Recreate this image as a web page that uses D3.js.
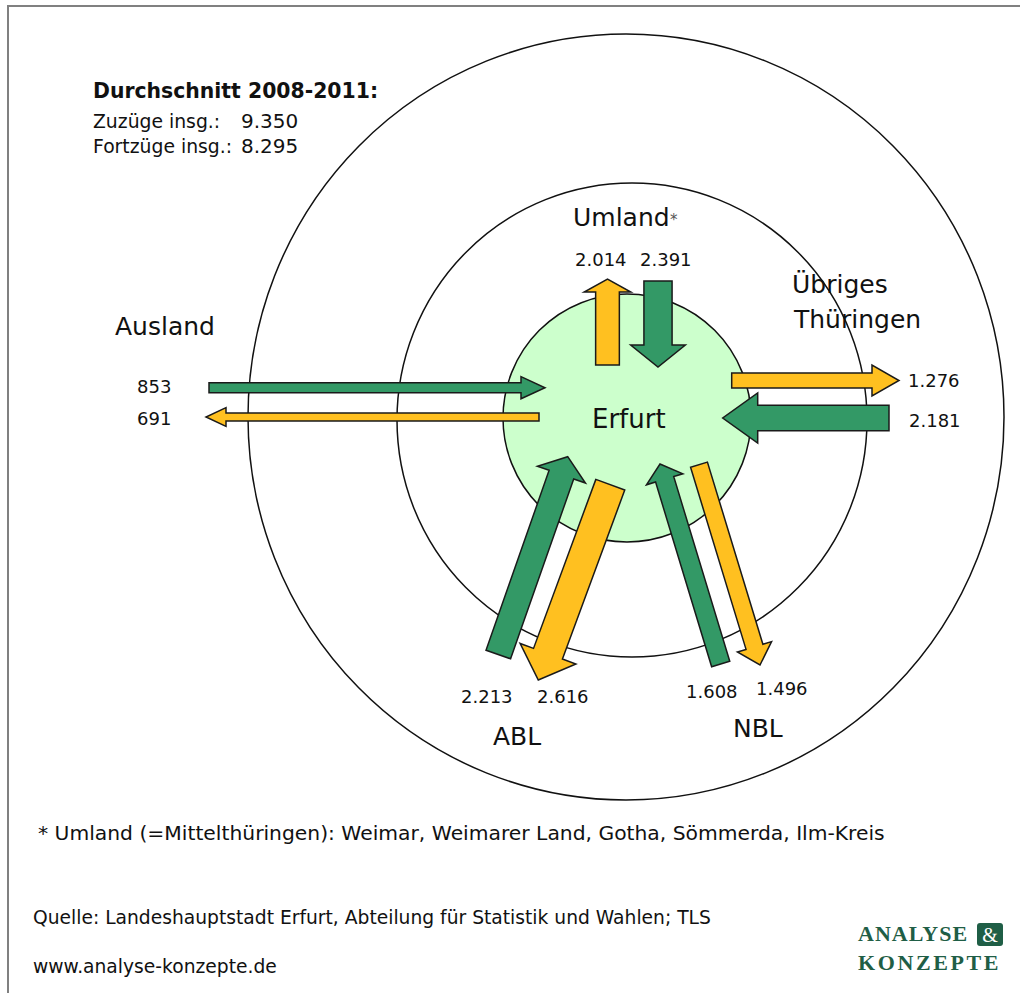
<!DOCTYPE html>
<html>
<head>
<meta charset="utf-8">
<script src="https://cdn.jsdelivr.net/npm/d3@7"></script>
<style>
  body { margin: 0; background: #fff; }
  svg { display: block; }
</style>
</head>
<body>
<div id="viz"></div>
<script>
// DATA
// ---------------------------------------------------------------------------------------------
const regions = ["Umland", "Übriges Thüringen", "Ausland", "ABL", "NBL"];
const zuzuege = [2391, 2181, 853, 2213, 1608];    // into Erfurt (green)
const fortzuege = [2014, 1276, 691, 2616, 1496];  // out of Erfurt (orange)
const summaryLabels = ["Zuzüge insg.:", "Fortzüge insg.:"];
const summaryValues = [9350, 8295];

// LAYOUT (relative to circle centre)
// ---------------------------------------------------------------------------------------------
const W = 1020, H = 993;
const cx = 628, cy = 418;
const inLayout = [
  { tail: [30, -137], tip: [30, -51], head: 22, label: [640, 266] },
  { tail: [261, 0], tip: [94.7, 0], head: 35, label: [909, 427] },
  { tail: [-419, -30.3], tip: [-83, -30.3], head: 24, label: [137, 393] },
  { tail: [-129.7, 236.5], tip: [-60.3, 38.7], head: 19, label: [461, 703] },
  { tail: [92.7, 246], tip: [32, 46], head: 16, label: [686, 698] }
];
const outLayout = [
  { tail: [-20.5, -53], tip: [-20.5, -139], head: 13, label: [575, 266] },
  { tail: [103.7, -37.5], tip: [271, -37.5], head: 27, label: [908, 387] },
  { tail: [-89, -1], tip: [-422, -1], head: 20, label: [137, 425] },
  { tail: [-17.7, 66.7], tip: [-89.7, 262], head: 28, label: [537, 703] },
  { tail: [71, 46.7], tip: [132, 247], head: 19, label: [756, 695] }
];

const fmt = v => d3.format(",")(v).replace(/,/g, ".");
const width = d3.scaleLinear().domain([0, 2616]).range([0, 30.8]);

const svg = d3.select("#viz").append("svg")
  .attr("width", W)
  .attr("height", H)
  .style("font-family", "'DejaVu Sans', Verdana, sans-serif");

// FRAME
svg.append("path")
  .attr("d", `M8,${H} L8,6 L${W},6`)
  .attr("fill", "none")
  .attr("stroke", "#808080")
  .attr("stroke-width", 2);

// RINGS
svg.append("ellipse")
  .attr("cx", 626).attr("cy", 417).attr("rx", 378).attr("ry", 383)
  .attr("fill", "none").attr("stroke", "#111").attr("stroke-width", 1.5);
svg.append("ellipse")
  .attr("cx", 632).attr("cy", 420).attr("rx", 235).attr("ry", 237)
  .attr("fill", "none").attr("stroke", "#111").attr("stroke-width", 1.5);
svg.append("circle")
  .attr("cx", 627).attr("cy", 418).attr("r", 124)
  .attr("fill", "#ccffcc").attr("stroke", "#111").attr("stroke-width", 1.5);

// ARROWS
// ---------------------------------------------------------------------------------------------
function arrowPoints(l, v) {
  const w = width(v), hw = 1.8 * w + 4;
  const t = [cx + l.tail[0], cy + l.tail[1]];
  const p = [cx + l.tip[0], cy + l.tip[1]];
  const len = Math.hypot(p[0] - t[0], p[1] - t[1]);
  const u = [(p[0] - t[0]) / len, (p[1] - t[1]) / len];
  const n = [-u[1], u[0]];
  const b = [p[0] - u[0] * l.head, p[1] - u[1] * l.head];
  const off = (pt, k) => [pt[0] + n[0] * k, pt[1] + n[1] * k];
  return [off(t, w / 2), off(b, w / 2), off(b, hw / 2), p, off(b, -hw / 2), off(b, -w / 2), off(t, -w / 2)];
}

const line = d3.line().curve(d3.curveLinearClosed);

svg.append("g").selectAll("path.in")
  .data(zuzuege)
  .enter()
  .append("path")
  .attr("d", (d, i) => line(arrowPoints(inLayout[i], d)))
  .attr("fill", "#339966")
  .attr("stroke", "#1a1a1a")
  .attr("stroke-width", 1.5)
  .attr("stroke-linejoin", "miter");

svg.append("g").selectAll("path.out")
  .data(fortzuege)
  .enter()
  .append("path")
  .attr("d", (d, i) => line(arrowPoints(outLayout[i], d)))
  .attr("fill", "#ffc020")
  .attr("stroke", "#1a1a1a")
  .attr("stroke-width", 1.5)
  .attr("stroke-linejoin", "miter");

// VALUE LABELS
svg.append("g").selectAll("text")
  .data(zuzuege.map((v, i) => ({ v, l: inLayout[i] })).concat(fortzuege.map((v, i) => ({ v, l: outLayout[i] }))))
  .enter()
  .append("text")
  .attr("x", d => d.l.label[0])
  .attr("y", d => d.l.label[1])
  .attr("font-size", "18px")
  .attr("fill", "#111")
  .text(d => fmt(d.v));

// REGION LABELS
// ---------------------------------------------------------------------------------------------
const regionPos = [[573, 226], [792, 293], [115, 335], [493, 745], [733, 737]];
regions.forEach((r, i) => {
  const t = svg.append("text")
    .attr("x", regionPos[i][0])
    .attr("y", regionPos[i][1])
    .attr("font-size", "25px")
    .attr("fill", "#111");
  if (r === "Übriges Thüringen") {
    t.append("tspan").text("Übriges");
    t.append("tspan").attr("x", regionPos[i][0] + 2).attr("dy", 35).text("Thüringen");
  } else {
    t.text(r);
  }
});
svg.append("text")
  .attr("x", 670).attr("y", 225)
  .attr("font-size", "15px")
  .attr("fill", "#555")
  .text("*");

svg.append("text")
  .attr("x", 592).attr("y", 428)
  .attr("font-size", "26px")
  .attr("fill", "#111")
  .text("Erfurt");

// SUMMARY
// ---------------------------------------------------------------------------------------------
svg.append("text")
  .attr("x", 93).attr("y", 98)
  .attr("font-size", "20.4px")
  .attr("font-weight", "bold")
  .attr("fill", "#111")
  .text("Durchschnitt 2008-2011:");

summaryLabels.forEach((s, i) => {
  svg.append("text")
    .attr("x", 93).attr("y", 128 + i * 25)
    .attr("font-size", "18.8px")
    .attr("fill", "#111")
    .text(s);
  svg.append("text")
    .attr("x", 241).attr("y", 128 + i * 25)
    .attr("font-size", "20px")
    .attr("fill", "#111")
    .text(fmt(summaryValues[i]));
});

// FOOTNOTES
// ---------------------------------------------------------------------------------------------
const note = svg.append("g").attr("fill", "#111");
note.append("text")
  .attr("x", 38).attr("y", 840)
  .attr("font-size", "20.3px")
  .text("* Umland (=Mittelthüringen): Weimar, Weimarer Land, Gotha, Sömmerda, Ilm-Kreis");
note.append("text")
  .attr("x", 33).attr("y", 924)
  .attr("font-size", "18.7px")
  .text("Quelle: Landeshauptstadt Erfurt, Abteilung für Statistik und Wahlen; TLS");
note.append("text")
  .attr("x", 33).attr("y", 973)
  .attr("font-size", "18.7px")
  .text("www.analyse-konzepte.de");

// LOGO
const logo = svg.append("g")
  .style("font-family", "'Liberation Serif', 'Times New Roman', serif")
  .attr("font-weight", "bold")
  .attr("fill", "#1f5e46");
logo.append("text")
  .attr("x", 858).attr("y", 941)
  .attr("font-size", "22px")
  .attr("letter-spacing", "1px")
  .text("ANALYSE");
logo.append("rect")
  .attr("x", 977).attr("y", 923).attr("width", 26).attr("height", 23).attr("rx", 3)
  .attr("fill", "#1f5e46");
logo.append("text")
  .attr("x", 990).attr("y", 942)
  .attr("text-anchor", "middle")
  .attr("font-size", "20px")
  .attr("font-weight", "normal")
  .attr("fill", "#fff")
  .text("&");
logo.append("text")
  .attr("x", 858).attr("y", 970)
  .attr("font-size", "22px")
  .attr("letter-spacing", "2.6px")
  .text("KONZEPTE");
</script>
</body>
</html>
